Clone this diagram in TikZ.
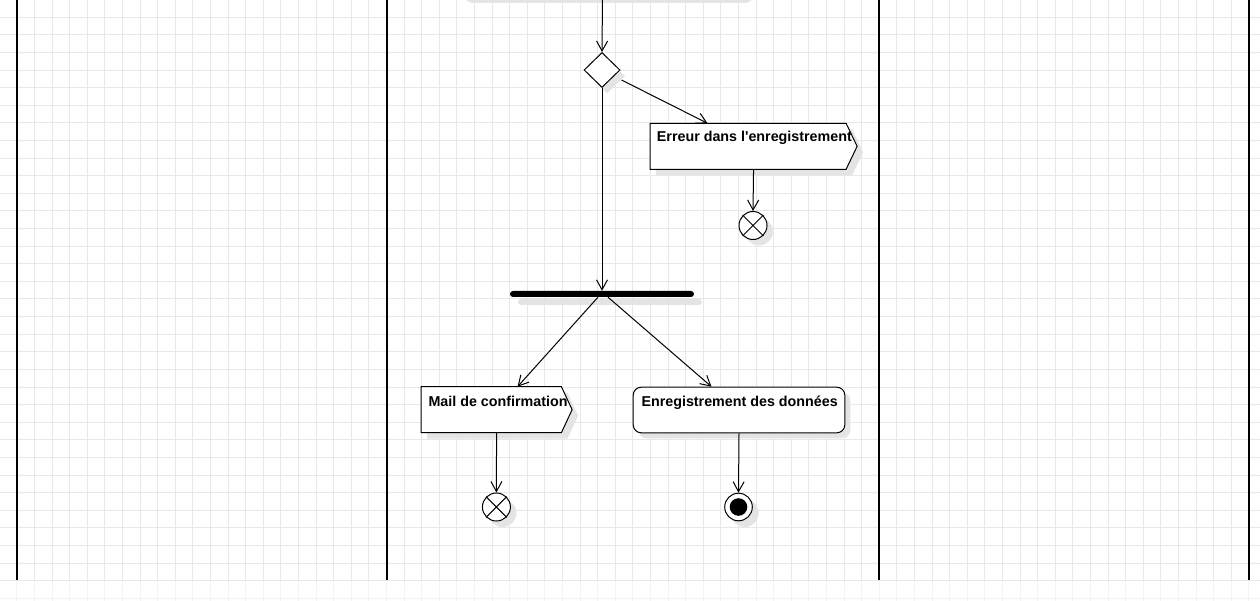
\documentclass[tikz,border=0pt]{standalone}
\usepackage{fontspec}
\setmainfont{Liberation Sans}
\usetikzlibrary{arrows.meta,shapes.geometric,calc}
\definecolor{gridc}{HTML}{E8E8E8}
\definecolor{shadowc}{HTML}{E4E4E4}
\newcommand{\mysig}[2]{%
  \fill[shadowc] ([shift={(6,6)}]#1.north west) -- ([shift={(-#2+6,6)}]#1.north east) -- ([shift={(6,6)}]#1.east) -- ([shift={(-#2+6,6)}]#1.south east) -- ([shift={(6,6)}]#1.south west) -- cycle;
  \draw[line width=1pt, fill=white] (#1.north west) -- ([xshift=-#2]#1.north east) -- (#1.east) -- ([xshift=-#2]#1.south east) -- (#1.south west) -- cycle;}
\begin{document}
\begin{tikzpicture}[x=1pt,y=-1pt,
  gridline/.style={draw=gridc, line width=0.8pt},
  lane/.style={line width=2.8pt, draw=black},
  sigbox/.style={rectangle, draw=none, inner sep=0pt, minimum height=45.6pt},
  actbox/.style={rectangle, rounded corners=8pt, draw, line width=1pt, fill=white, inner sep=0pt, minimum height=45.6pt},
  dec/.style={diamond, draw, line width=1pt, fill=white, inner sep=0pt, minimum width=36pt, minimum height=35pt},
  ffin/.style={circle, draw, line width=1pt, fill=white, inner sep=0pt, minimum size=28pt},
  forkbar/.style={rectangle, fill=black, inner sep=0pt, minimum width=184pt, minimum height=6pt, rounded corners=3pt},
  lbl/.style={inner sep=0pt, font=\fontsize{14.3pt}{17pt}\selectfont\bfseries},
  flow/.style={line width=1pt, -{Straight Barb[length=10pt,width=11pt,line width=1pt]}}]
\useasboundingbox (0,0) rectangle (1260,601);
\fill[white] (0,0) rectangle (1260,601);
% grid
\foreach \i in {0,...,71} \draw[gridline] ({16.7+17.6*\i},0) -- ({16.7+17.6*\i},601);
\foreach \j in {0,...,34} \draw[gridline] (0,{-0.3+17.6*\j}) -- (1260,{-0.3+17.6*\j});
\fill[white, opacity=0.5] (0,580.5) rectangle (1260,601);
% swimlanes
\foreach \x in {17,387,879,1249} \draw[lane] (\x,0) -- (\x,580);
% top activity (cut off)
\fill[shadowc, rounded corners=8pt] (465,-60) rectangle (753,3);
\node[actbox, minimum width=288pt, anchor=south west] (top) at (458,-4) {};
% decision
\node[dec, fill=shadowc, draw=none] at (607,76) {};
\node[dec] (dec) at (602,70) {};
% error signal
\node[sigbox, minimum width=206.7pt, anchor=north west] (err) at (650,123.3) {};
\mysig{err}{11}
\node[lbl, anchor=base west] (errt) at (656.7,141.7) {Erreur dans l\textquotesingle enregistrement};
% flow final 1
\fill[shadowc] (759,231.5) circle[radius=14pt];
\node[ffin] (ff1) at (753,225.5) {};
\draw[line width=1pt] (ff1.north east) -- (ff1.south west) (ff1.north west) -- (ff1.south east);
% fork
\fill[shadowc, rounded corners=3pt] (518,299) rectangle (702,305);
\node[forkbar] (fork) at (602,294) {};
% mail signal
\node[sigbox, minimum width=150.7pt, anchor=north west] (mail) at (421,386.7) {};
\mysig{mail}{10.7}
\node[lbl, anchor=base west] (mailt) at (428.3,406) {Mail de confirmation};
% enregistrement
\fill[shadowc, rounded corners=8pt] (638.7,392.7) rectangle (850.3,438.3);
\node[actbox, minimum width=211.6pt, anchor=north west] (enr) at (632.7,386.7) {};
\node[lbl, anchor=base west] (enrt) at (641.3,406) {Enregistrement des données};
% flow final 2
\fill[shadowc] (502.4,513) circle[radius=14pt];
\node[ffin] (ff2) at (496.4,507) {};
\draw[line width=1pt] (ff2.north east) -- (ff2.south west) (ff2.north west) -- (ff2.south east);
% final node
\fill[shadowc] (744.7,513) circle[radius=14pt];
\node[ffin, minimum size=27.6pt] (fin) at (738.5,507) {};
\fill[black] (fin.center) circle[radius=8.8pt];
% connectors
\draw[flow] (top.south) -- (dec.north);
\draw[flow] ([shift={(1,10)}]dec.east) -- ([xshift=-46pt]err.north);
\draw[flow] (dec.south) -- (fork.north);
\draw[flow] (err.south) -- (ff1.north);
\draw[flow] ([xshift=-4pt]fork.south) -- ([xshift=21pt]mail.north);
\draw[flow] ([xshift=6pt]fork.south) -- ([xshift=-27.5pt]enr.north);
\draw[flow] (mail.south) -- (ff2.north);
\draw[flow] (enr.south) -- (fin.north);
\end{tikzpicture}
\end{document}
